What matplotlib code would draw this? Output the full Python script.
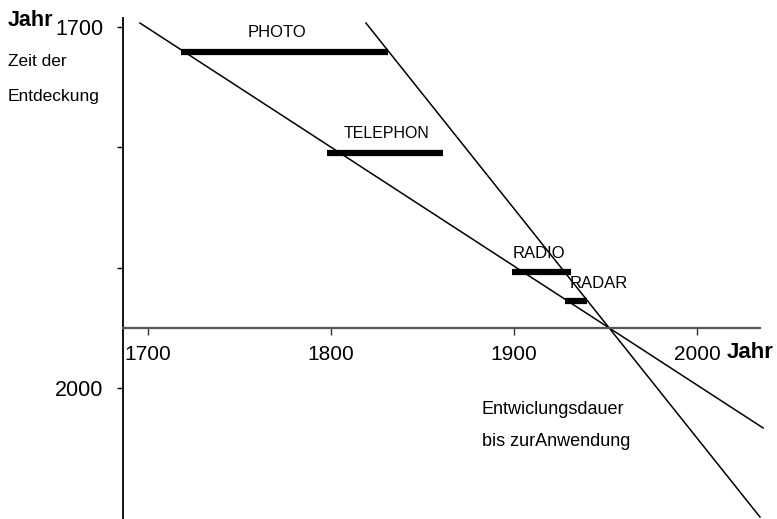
import matplotlib.pyplot as plt

plt.rcParams['font.family'] = ['Liberation Sans', 'DejaVu Sans']

# inventions: discovery year (vertical), start / end of development (horizontal)
names = ["PHOTO", "TELEPHON", "RADIO", "RADAR"]
found = [1721, 1805, 1904, 1928]
start = [1718, 1798, 1899, 1928]
end = [1831, 1861, 1931, 1940]

# the two guide lines, given by their end points (x years, y years)
line1_x = [1695.6, 2036.1]
line1_y = [1696.7, 2033.2]
line2_x = [1819.1, 2034.4]
line2_y = [1696.7, 2107.2]

xticks = [1700, 1800, 1900, 2000]
yticks = [1700, 1800, 1900, 2000]
ylabels = ["1700", "", "", "2000"]

fig = plt.figure(figsize=(7.77, 5.19), dpi=100)
ax = fig.add_axes([0, 0, 1, 1])
ax.set_xlim(1700 - 148 / 1.83, 1700 + 629 / 1.83)
ax.set_ylim(1700 + 492 / 1.2033, 1700 - 27 / 1.2033)

ax.spines['top'].set_visible(False)
ax.spines['right'].set_visible(False)
ax.spines['left'].set_position(('data', 1686.3))
ax.spines['left'].set_bounds(1692.5, 2110)
ax.spines['left'].set_linewidth(1.3)
ax.spines['bottom'].set_position(('data', 1950.1))
ax.spines['bottom'].set_bounds(1686.3, 2034.4)
ax.spines['bottom'].set_linewidth(1.6)
ax.spines['bottom'].set_color('#555555')

ax.set_xticks(xticks)
ax.set_xticklabels([str(t) for t in xticks], fontsize=15)
ax.set_yticks(yticks)
ax.set_yticklabels(ylabels, fontsize=15.5)
ax.tick_params(axis='x', length=5, width=1, pad=7, color='#333333')
ax.tick_params(axis='y', length=4, width=1, pad=10)

ax.plot(line1_x, line1_y, color='black', lw=1.1)
ax.plot(line2_x, line2_y, color='black', lw=1.1)

ax.hlines(found, start, end, color='black', lw=4.5)

ax.text(1700 + (277 - 148) / 1.83, 1700 + (33 - 27) / 1.2033, "PHOTO",
        fontsize=12, ha='center', va='center')
ax.text(1700 + (387 - 148) / 1.83, 1700 + (134 - 27) / 1.2033, "TELEPHON",
        fontsize=11.5, ha='center', va='center')
ax.text(1700 + (513 - 148) / 1.83, 1700 + (254 - 27) / 1.2033, "RADIO",
        fontsize=12, ha='left', va='center')
ax.text(1700 + (570 - 148) / 1.83, 1700 + (284 - 27) / 1.2033, "RADAR",
        fontsize=12, ha='left', va='center')

fig.text(8 / 777, 1 - 20 / 519, "Jahr", fontsize=15.5, fontweight='bold', va='center')
fig.text(8 / 777, 1 - 62 / 519, "Zeit der", fontsize=12.5, va='center')
fig.text(8 / 777, 1 - 96 / 519, "Entdeckung", fontsize=12.5, va='center')
fig.text(727 / 777, 1 - 353 / 519, "Jahr", fontsize=16, fontweight='bold', va='center')
fig.text(482 / 777, 1 - 410 / 519, "Entwiclungsdauer", fontsize=13, va='center')
fig.text(482 / 777, 1 - 442 / 519, "bis zurAnwendung", fontsize=13, va='center')

fig.savefig("out.png", dpi=100)
